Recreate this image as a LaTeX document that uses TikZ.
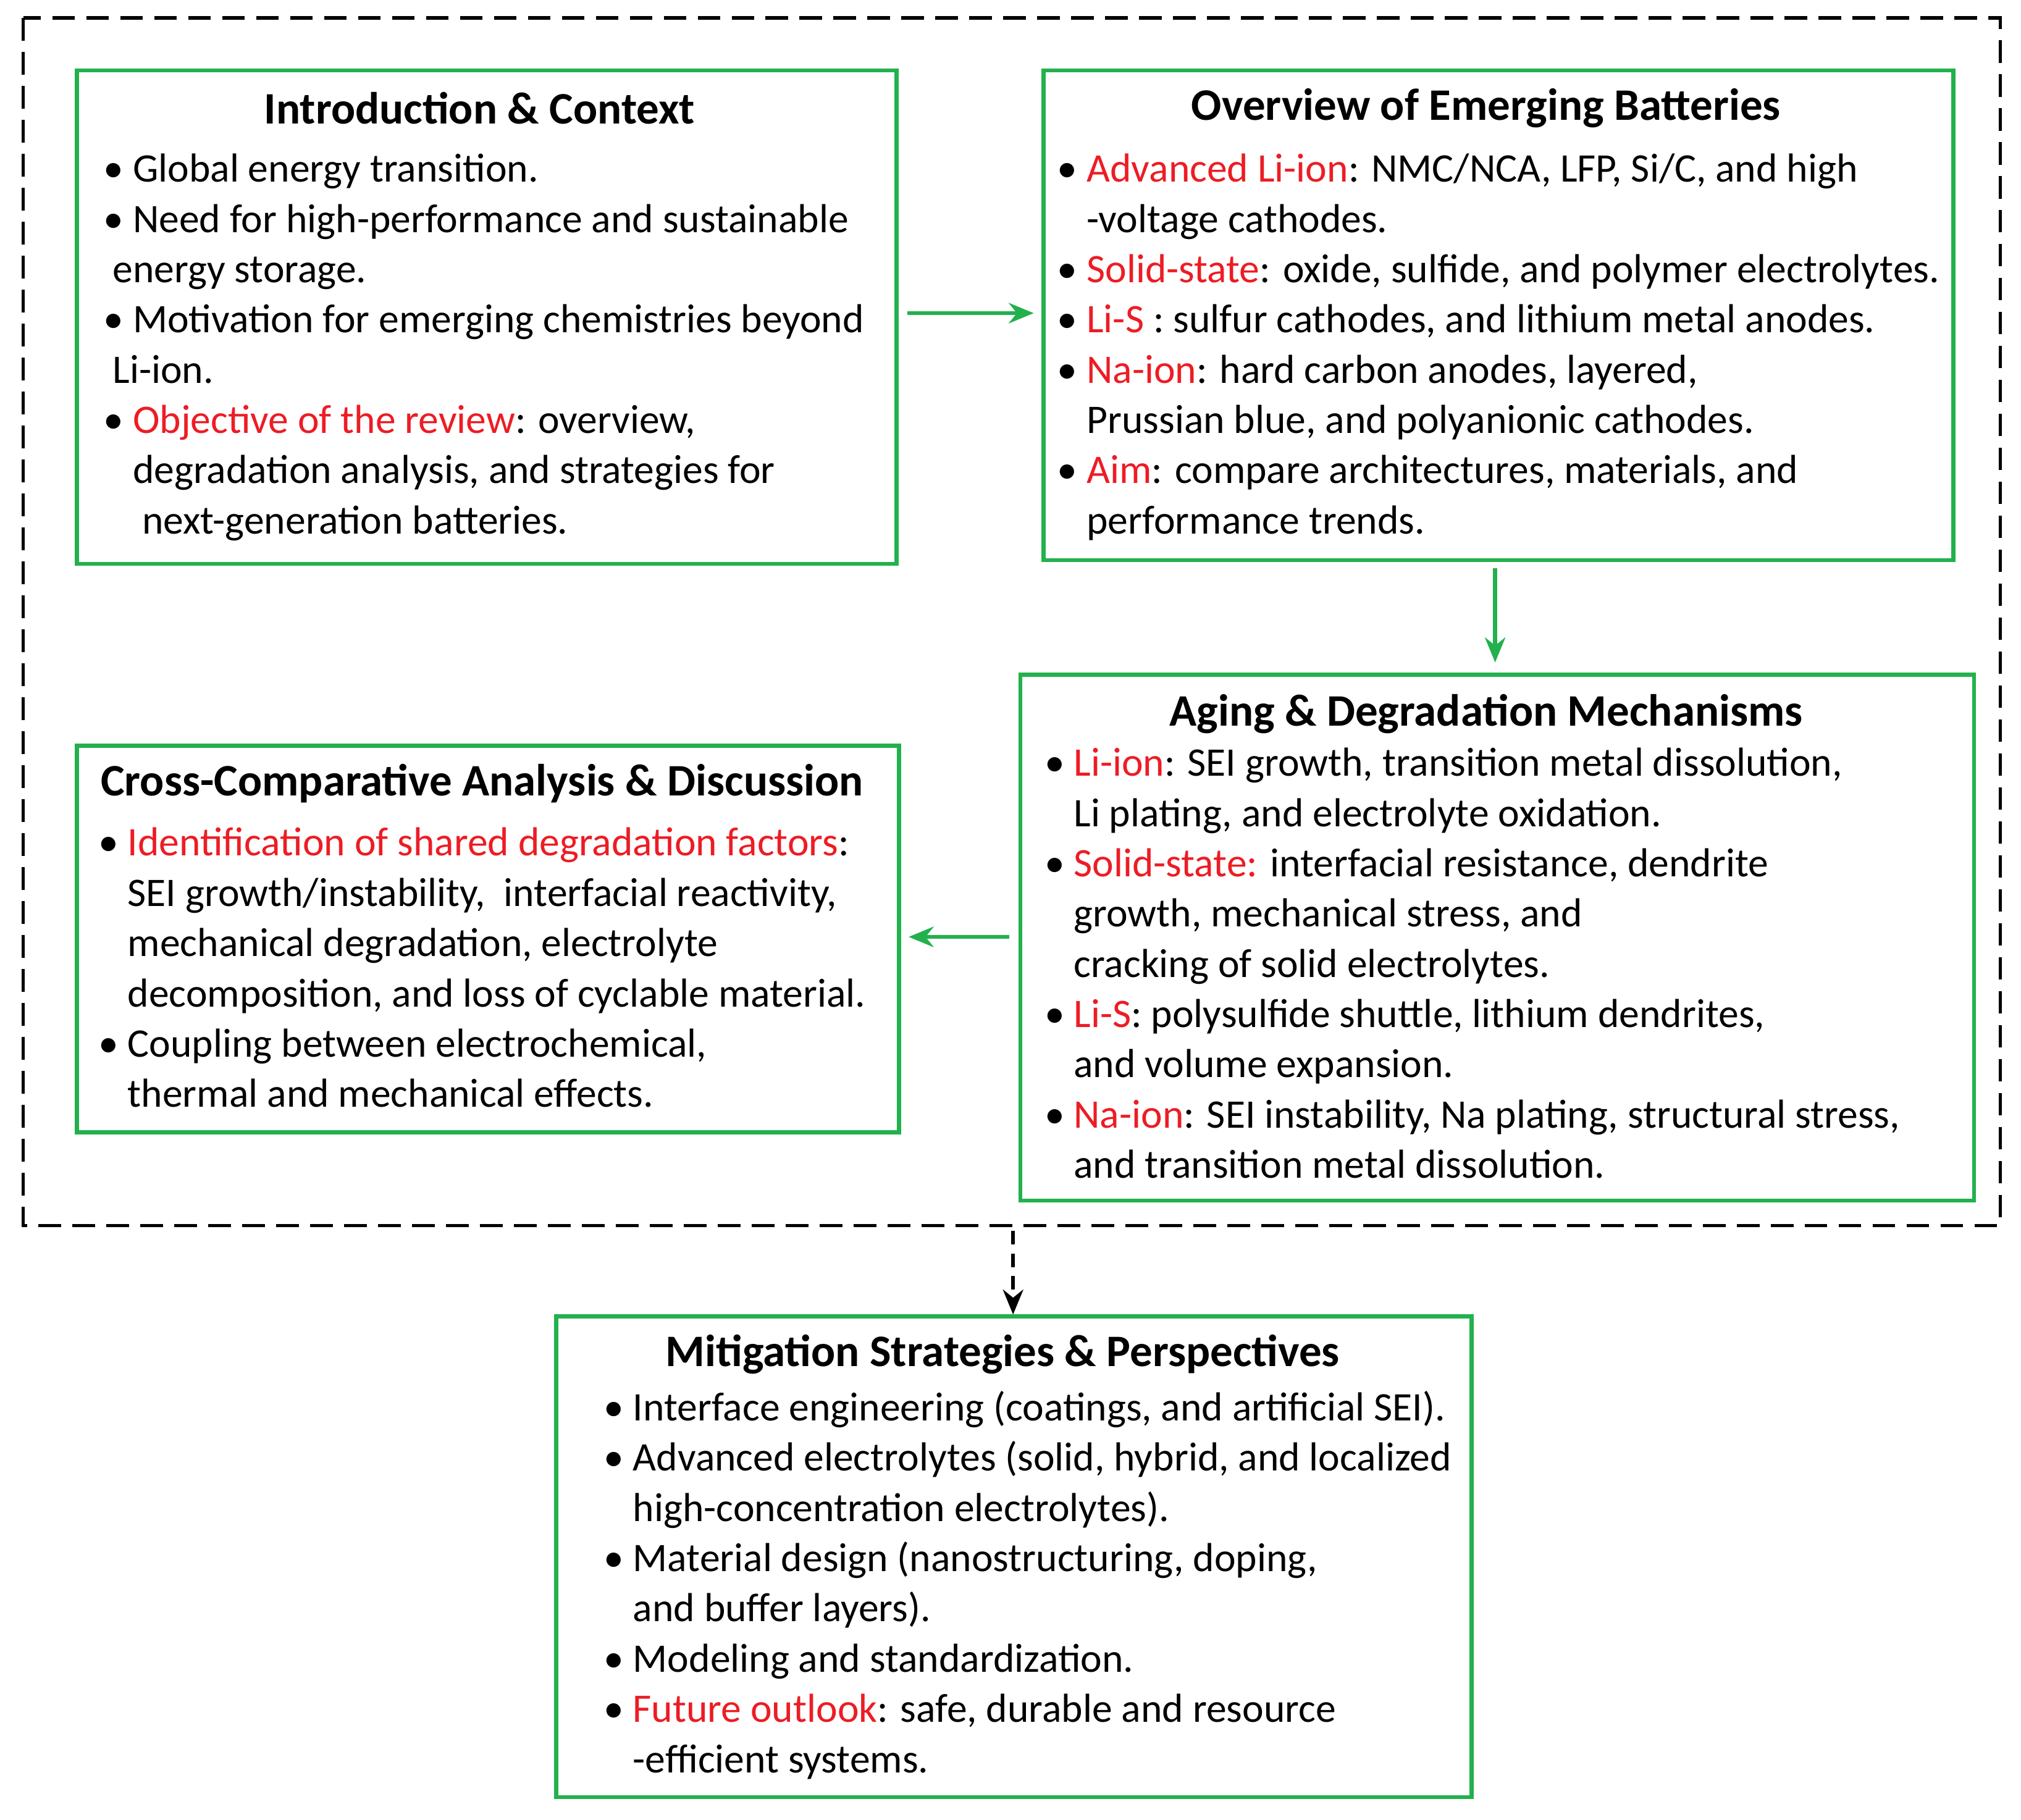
\documentclass[tikz,border=0pt]{standalone}
\usepackage{fontspec}
\setmainfont{Carlito}
\usetikzlibrary{arrows.meta}
\definecolor{bgreen}{RGB}{34,177,76}
\definecolor{bred}{RGB}{237,28,36}
\newcommand{\rd}[1]{\textcolor{bred}{#1}}
\newcommand{\bu}{\textbullet\ }
\newcommand{\ph}{\phantom{\textbullet\ }}
\begin{document}
\begin{tikzpicture}[x=0.02cm,y=-0.02cm,
  box/.style={draw=bgreen,line width=1.8pt,anchor=north west,inner sep=0pt},
  ttl/.style={font=\fontsize{19.9}{22}\selectfont\bfseries,anchor=center,inner sep=0pt},
  body/.style={font=\fontsize{17.9}{22.2}\selectfont,align=left,anchor=north west,inner sep=0pt},
  garr/.style={draw=bgreen,line width=1.8pt,-{Stealth[length=11pt,width=9pt]}}]
\useasboundingbox (0,0) rectangle (1568,1412);
\draw[line width=1.5pt,dash pattern=on 10pt off 5pt] (18,14) rectangle (1552,951);
% boxes
\node[box,minimum width=636*0.02cm,minimum height=383*0.02cm] (b1) at (58,53) {};
\node[box,minimum width=706*0.02cm,minimum height=380*0.02cm] (b2) at (808,53) {};
\node[box,minimum width=740*0.02cm,minimum height=408*0.02cm] (b3) at (790,522) {};
\node[box,minimum width=638*0.02cm,minimum height=300*0.02cm] (b4) at (58,577) {};
\node[box,minimum width=710*0.02cm,minimum height=373*0.02cm] (b5) at (430,1020) {};
% titles
\node[ttl] (t1) at (372,84) {Introduction \& Context};
\node[ttl] (t2) at (1153,84) {Overview of Emerging Batteries};
\node[ttl] (t3) at (1153,554) {Aging \& Degradation Mechanisms};
\node[ttl] (t4) at (374,608) {Cross-Comparative Analysis \& Discussion};
\node[ttl] (t5) at (778,1051) {Mitigation Strategies \& Perspectives};
% bodies
\node[body] (x1) at (80,119) {\bu Global energy transition.\\
\bu Need for high-performance and sustainable\\
\ energy storage.\\
\bu Motivation for emerging chemistries beyond\\
\ Li-ion.\\
\bu \rd{Objective of the review}: overview,\\
\ph degradation analysis, and strategies for\\
\ph\ next-generation batteries.};
\node[body] (x2) at (820,119) {\bu \rd{Advanced Li-ion}: NMC/NCA, LFP, Si/C, and high\\
\ph -voltage cathodes.\\
\bu \rd{Solid-state}: oxide, sulfide, and polymer electrolytes.\\
\bu \rd{Li-S} : sulfur cathodes, and lithium metal anodes.\\
\bu \rd{Na-ion}: hard carbon anodes, layered,\\
\ph Prussian blue, and polyanionic cathodes.\\
\bu \rd{Aim}: compare architectures, materials, and\\
\ph performance trends.};
\node[body] (x3) at (810,580) {\bu \rd{Li-ion}: SEI growth, transition metal dissolution,\\
\ph Li plating, and electrolyte oxidation.\\
\bu \rd{Solid-state:} interfacial resistance, dendrite\\
\ph growth, mechanical stress, and\\
\ph cracking of solid electrolytes.\\
\bu \rd{Li-S}: polysulfide shuttle, lithium dendrites,\\
\ph and volume expansion.\\
\bu \rd{Na-ion}: SEI instability, Na plating, structural stress,\\
\ph and transition metal dissolution.};
\node[body] (x4) at (76,642) {\bu \rd{Identification of shared degradation factors}:\\
\ph SEI growth/instability,\ \ interfacial reactivity,\\
\ph mechanical degradation, electrolyte\\
\ph decomposition, and loss of cyclable material.\\
\bu Coupling between electrochemical,\\
\ph thermal and mechanical effects.};
\node[body] (x5) at (468,1079) {\bu Interface engineering (coatings, and artificial SEI).\\
\bu Advanced electrolytes (solid, hybrid, and localized\\
\ph high-concentration electrolytes).\\
\bu Material design (nanostructuring, doping,\\
\ph and buffer layers).\\
\bu Modeling and standardization.\\
\bu \rd{Future outlook}: safe, durable and resource\\
\ph -efficient systems.};
% arrows
\coordinate (a1) at (704,243); \coordinate (a2) at (802,243);
\draw[garr] (a1) -- (a2);
\coordinate (c1) at (1160,441); \coordinate (c2) at (1160,514);
\draw[garr] (c1) -- (c2);
\coordinate (d1) at (783,727); \coordinate (d2) at (705,727);
\draw[garr] (d1) -- (d2);
\coordinate (e1) at (786,955);
\draw[line width=1.5pt,dash pattern=on 6pt off 4pt,-{Stealth[length=11pt,width=9pt]}] (e1) -- (b5.north west -| e1);
\end{tikzpicture}
\end{document}
